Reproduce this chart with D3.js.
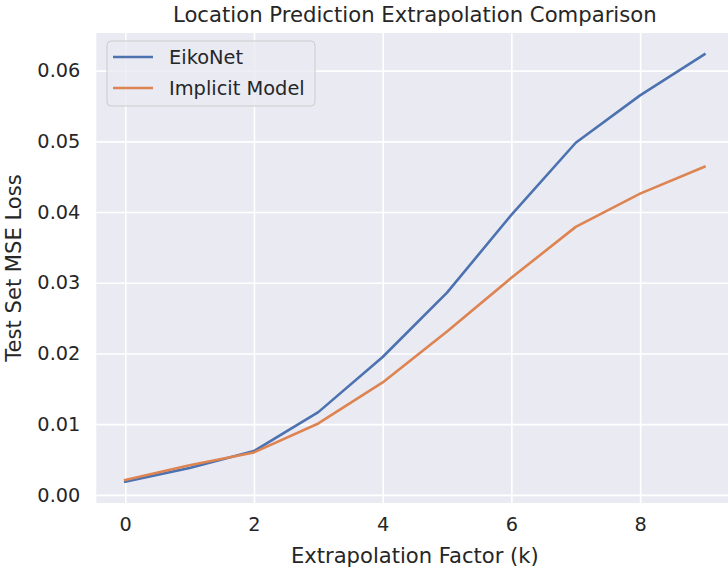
<!DOCTYPE html>
<html>
<head>
<meta charset="utf-8">
<script src="https://cdn.jsdelivr.net/npm/d3@7"></script>
<style>
  html, body { margin: 0; padding: 0; background: #ffffff; }
  svg { display: block; font-family: "DejaVu Sans", sans-serif; }
</style>
</head>
<body>
<svg id="chart" width="728" height="571"></svg>
<script>
// ---- data ----
const kValues = [0, 1, 2, 3, 4, 5, 6, 7, 8, 9];
const eikonetLoss = [0.00187, 0.0038, 0.0062, 0.0117, 0.0195, 0.0286, 0.0396, 0.0498, 0.0565, 0.0623];
const implicitLoss = [0.0021, 0.0042, 0.0060, 0.0101, 0.0159, 0.0231, 0.0307, 0.0379, 0.0426, 0.0464];
const seriesNames = ["EikoNet", "Implicit Model"];
const xTicks = [0, 2, 4, 6, 8];
const yTicks = [0.00, 0.01, 0.02, 0.03, 0.04, 0.05, 0.06];
const titleText = "Location Prediction Extrapolation Comparison";
const xLabelText = "Extrapolation Factor (k)";
const yLabelText = "Test Set MSE Loss";

// ---- layout ----
const colors = ["#4C72B0", "#DD8452"];
const plot = { left: 96.3, right: 733.4, top: 33, bottom: 503 };

const svg = d3.select("#chart");

const xMin = d3.min(kValues), xMax = d3.max(kValues);
const xPad = (xMax - xMin) * 0.05;
const x = d3.scaleLinear().domain([xMin - xPad, xMax + xPad]).range([plot.left, plot.right]);

const allY = eikonetLoss.concat(implicitLoss);
const yMin = d3.min(allY), yMax = d3.max(allY);
const yPad = (yMax - yMin) * 0.05;
const y = d3.scaleLinear().domain([yMin - yPad, yMax + yPad]).range([plot.bottom, plot.top]);

// background
svg.append("rect")
  .attr("x", plot.left).attr("y", plot.top)
  .attr("width", plot.right - plot.left).attr("height", plot.bottom - plot.top)
  .attr("fill", "#EAEAF2");

// grid via axes
const xGrid = svg.append("g")
  .attr("transform", `translate(0,${plot.bottom})`)
  .call(d3.axisBottom(x).tickValues(xTicks).tickSize(-(plot.bottom - plot.top)).tickFormat(""));
xGrid.select(".domain").remove();
xGrid.selectAll("line").attr("stroke", "#ffffff").attr("stroke-width", 1.6);

const yGrid = svg.append("g")
  .attr("transform", `translate(${plot.left},0)`)
  .call(d3.axisLeft(y).tickValues(yTicks).tickSize(-(plot.right - plot.left)).tickFormat(""));
yGrid.select(".domain").remove();
yGrid.selectAll("line").attr("stroke", "#ffffff").attr("stroke-width", 1.6);

// tick labels
const xAxis = svg.append("g")
  .attr("transform", `translate(0,${plot.bottom})`)
  .call(d3.axisBottom(x).tickValues(xTicks).tickSize(0).tickPadding(14).tickFormat(d3.format("d")));
xAxis.select(".domain").remove();
xAxis.selectAll("text")
  .attr("font-family", "DejaVu Sans").attr("font-size", 19.3).attr("fill", "#262626");

const yAxis = svg.append("g")
  .attr("transform", `translate(${plot.left},0)`)
  .call(d3.axisLeft(y).tickValues(yTicks).tickSize(0).tickPadding(16).tickFormat(d3.format(".2f")));
yAxis.select(".domain").remove();
yAxis.selectAll("text")
  .attr("font-family", "DejaVu Sans").attr("font-size", 19.3).attr("fill", "#262626");

// clip
svg.append("clipPath").attr("id", "plotclip")
  .append("rect")
  .attr("x", plot.left).attr("y", plot.top)
  .attr("width", plot.right - plot.left).attr("height", plot.bottom - plot.top);

// lines
const series = [eikonetLoss, implicitLoss];
const line = d3.line().x((d, i) => x(kValues[i])).y(d => y(d));
const linesG = svg.append("g").attr("clip-path", "url(#plotclip)");
series.forEach((vals, si) => {
  linesG.append("path")
    .datum(vals)
    .attr("d", line)
    .attr("fill", "none")
    .attr("stroke", colors[si])
    .attr("stroke-width", 2.6)
    .attr("stroke-linejoin", "round")
    .attr("stroke-linecap", "square");
});

// title
svg.append("text")
  .attr("x", (plot.left + plot.right) / 2).attr("y", 22)
  .attr("text-anchor", "middle")
  .attr("font-size", 21.2).attr("fill", "#262626")
  .text(titleText);

// axis labels
svg.append("text")
  .attr("x", (plot.left + plot.right) / 2).attr("y", 563)
  .attr("text-anchor", "middle")
  .attr("font-size", 21.1).attr("fill", "#262626")
  .text(xLabelText);

svg.append("text")
  .attr("transform", `translate(21,${(plot.top + plot.bottom) / 2}) rotate(-90)`)
  .attr("text-anchor", "middle")
  .attr("font-size", 21.1).attr("fill", "#262626")
  .text(yLabelText);

// legend
const legend = svg.append("g");
legend.append("rect")
  .attr("x", 107).attr("y", 41).attr("width", 208).attr("height", 65)
  .attr("rx", 4).attr("ry", 4)
  .attr("fill", "#EAEAF2").attr("fill-opacity", 0.8)
  .attr("stroke", "#cccccc").attr("stroke-width", 1);
seriesNames.forEach((name, i) => {
  const ly = 57 + i * 31;
  legend.append("line")
    .attr("x1", 113).attr("x2", 153).attr("y1", ly).attr("y2", ly)
    .attr("stroke", colors[i]).attr("stroke-width", 2.6);
  legend.append("text")
    .attr("x", 169).attr("y", ly).attr("dy", "0.35em")
    .attr("font-size", 19.4).attr("fill", "#262626")
    .text(name);
});
</script>
</body>
</html>
